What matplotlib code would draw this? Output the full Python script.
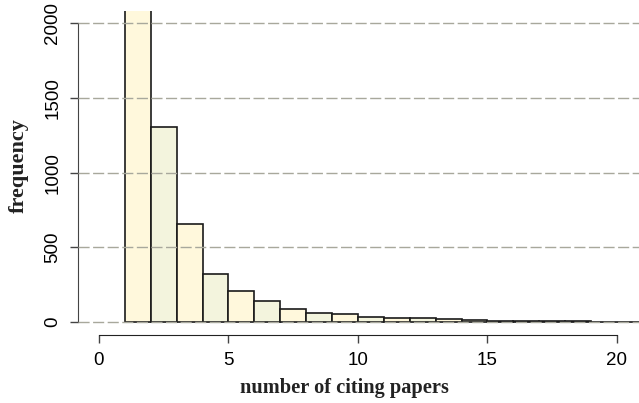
import matplotlib.pyplot as plt

# counts per bin [k, k+1)
bin_left = list(range(1, 21))
counts = [2400, 1305, 655, 321, 207, 140, 89, 62, 56, 31,
          25, 25, 18, 11, 9, 9, 8, 8, 3, 3]
x_ticks = [0, 5, 10, 15, 20]
y_ticks = [0, 500, 1000, 1500, 2000]

color_a = '#FFF8DC'
color_b = '#F3F4DD'
grid_color = '#A8A89C'

fig = plt.figure(figsize=(6.39, 4.03), dpi=100)
ax = fig.add_axes([78 / 639, 68 / 403, 1 - 78 / 639, 1 - 79 / 403])

colors = [color_a if i % 2 == 0 else color_b for i in range(len(counts))]
ax.bar(bin_left, counts, width=1, align='edge', color=colors,
       edgecolor='#1a1a1a', linewidth=1.2, zorder=2)

# dashed grid drawn over the bars
for y in y_ticks:
    ax.axhline(y, color=grid_color, linewidth=1.0, linestyle=(0, (8, 2.5)), zorder=3)

ax.set_xlim(-0.81, 20.85)
ax.set_ylim(-87, 2082)

for side in ['top', 'right']:
    ax.spines[side].set_visible(False)
ax.spines['left'].set_bounds(0, 2000)
ax.spines['bottom'].set_bounds(0, 20)
ax.spines['left'].set_color('#444444')
ax.spines['bottom'].set_color('#222222')

ax.set_xticks(x_ticks)
ax.set_yticks(y_ticks)
ax.tick_params(axis='both', length=6, width=1, color='#444444', pad=6,
               labelsize=13.5)
for lbl in ax.get_xticklabels() + ax.get_yticklabels():
    lbl.set_family('Liberation Sans')
for lbl in ax.get_yticklabels():
    lbl.set_rotation(90)
    lbl.set_va('center')

fig.text(344 / 639, 1 - 388 / 403, 'number of citing papers', family='Liberation Serif',
         fontweight='bold', fontsize=14.7, ha='center', va='center', color='#222222')
fig.text(19 / 639, 1 - 166 / 403, 'frequency', family='Liberation Serif',
         fontweight='bold', fontsize=16, ha='center', va='center', rotation=90,
         color='#222222')

plt.savefig('out.png', dpi=100)
plt.close()
